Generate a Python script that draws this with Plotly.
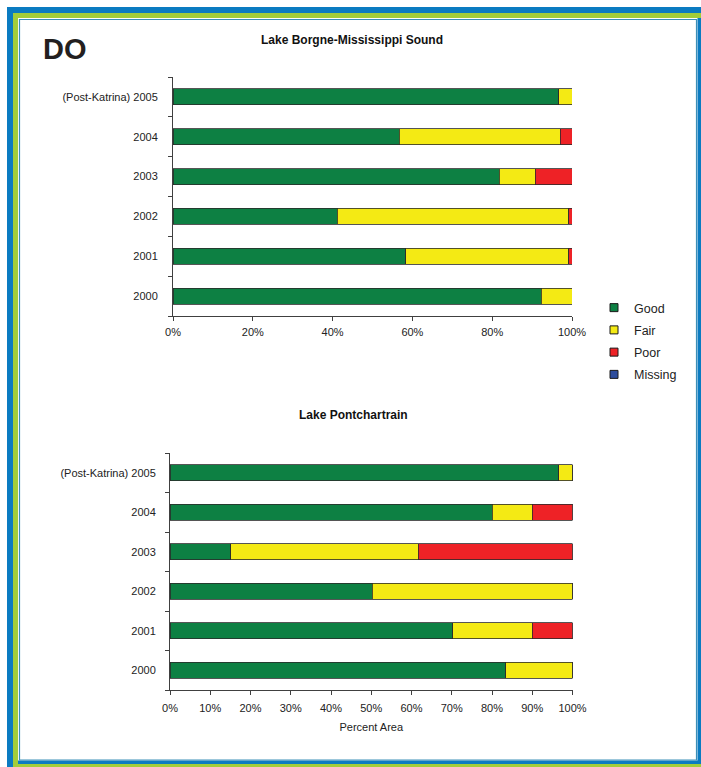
import plotly.graph_objects as go

W, H = 701, 767

years = ["2000", "2001", "2002", "2003", "2004", "(Post-Katrina) 2005"]

# Lake Borgne-Mississippi Sound (percent area)
lb_good = [92.3, 58.3, 41.2, 81.8, 56.7, 96.7]
lb_fair = [7.7, 40.9, 58.0, 9.0, 40.4, 3.3]
lb_poor = [0.0, 0.8, 0.8, 9.2, 2.9, 0.0]
lb_missing = [0, 0, 0, 0, 0, 0]

# Lake Pontchartrain (percent area)
lp_good = [83.4, 70.2, 50.2, 15.1, 80.0, 96.6]
lp_fair = [16.6, 19.8, 49.8, 46.6, 10.0, 3.4]
lp_poor = [0.0, 10.0, 0.0, 38.3, 10.0, 0.0]
lp_missing = [0, 0, 0, 0, 0, 0]

series_names = ["Good", "Fair", "Poor", "Missing"]
colors = ["#0d8043", "#f4ea14", "#ee2226", "#2d4c9c"]

top_tickvals = [0, 20, 40, 60, 80, 100]
top_ticklabels = ["0%", "20%", "40%", "60%", "80%", "100%"]
bottom_tickvals = [0, 10, 20, 30, 40, 50, 60, 70, 80, 90, 100]
bottom_ticklabels = ["0%", "10%", "20%", "30%", "40%", "50%", "60%", "70%", "80%", "90%", "100%"]

FONT = "Arial, Liberation Sans, sans-serif"


def px(x):
    return x / W


def py(y):
    return 1 - y / H


fig = go.Figure()

for vals, name, col in zip([lb_good, lb_fair, lb_poor, lb_missing], series_names, colors):
    fig.add_trace(go.Bar(y=years, x=vals, name=name, orientation="h",
                         marker=dict(color=col, line=dict(color="#2a2a2a", width=0.8)),
                         xaxis="x", yaxis="y", showlegend=False))
for vals, name, col in zip([lp_good, lp_fair, lp_poor, lp_missing], series_names, colors):
    fig.add_trace(go.Bar(y=years, x=vals, name=name, orientation="h",
                         marker=dict(color=col, line=dict(color="#2a2a2a", width=0.8)),
                         xaxis="x2", yaxis="y2", showlegend=False))
# legend entries (small square swatches)
for name, col in zip(series_names, colors):
    fig.add_trace(go.Scatter(x=[None], y=[None], mode="markers", name=name,
                             marker=dict(symbol="square", size=8, color=col,
                                         line=dict(color="#1a1a1a", width=1)),
                             xaxis="x", yaxis="y", legendgroup=name))

axis_common = dict(showline=True, linecolor="#404040", linewidth=1, showgrid=False,
                   zeroline=False, ticks="outside", ticklen=4, tickcolor="#404040",
                   tickfont=dict(family=FONT, size=11, color="#222222"), automargin=False)

fig.update_layout(
    width=W, height=H,
    margin=dict(l=0, r=0, t=0, b=0),
    paper_bgcolor="white", plot_bgcolor="white",
    barmode="stack", bargap=0.6,
    font=dict(family=FONT, color="#222222"),
    xaxis=dict(domain=[px(173), px(572)], range=[0, 100], tickmode="array",
               tickvals=top_tickvals, ticktext=top_ticklabels, ticklabelstandoff=2,
               anchor="y", **axis_common),
    yaxis=dict(domain=[py(316), py(77)], type="category", categoryorder="array",
               categoryarray=years, range=[-0.5, 5.5], tickson="boundaries",
               ticklabelstandoff=12, anchor="x", **axis_common),
    xaxis2=dict(domain=[px(170), px(572.5)], range=[0, 100], tickmode="array",
                tickvals=bottom_tickvals, ticktext=bottom_ticklabels, ticklabelstandoff=4,
                anchor="y2",
                title=dict(text="Percent Area", font=dict(family=FONT, size=11, color="#222222"),
                           standoff=10),
                **axis_common),
    yaxis2=dict(domain=[py(690), py(453)], type="category", categoryorder="array",
                categoryarray=years, range=[-0.5, 5.5], tickson="boundaries",
                ticklabelstandoff=11, anchor="x2", **axis_common),
    showlegend=True,
    legend=dict(x=px(594), y=py(293), xanchor="left", yanchor="top",
                font=dict(family=FONT, size=12.5, color="#222222"),
                bgcolor="rgba(0,0,0,0)", tracegroupgap=3, itemwidth=30),
)

fig.add_annotation(text="<b>DO</b>", x=px(41), y=py(49), xref="paper", yref="paper",
                   xanchor="left", yanchor="middle", showarrow=False,
                   font=dict(family=FONT, size=29, color="#231f20"))
fig.add_annotation(text="<b>Lake Borgne-Mississippi Sound</b>", x=px(352), y=py(40),
                   xref="paper", yref="paper", xanchor="center", yanchor="middle",
                   showarrow=False, font=dict(family=FONT, size=12, color="#111111"))
fig.add_annotation(text="<b>Lake Pontchartrain</b>", x=px(353), y=py(415),
                   xref="paper", yref="paper", xanchor="center", yanchor="middle",
                   showarrow=False, font=dict(family=FONT, size=12, color="#111111"))

BLUE = "#0b7bc1"
GREEN = "#a2cd3a"
frame = [
    (7, 7, 13, 767, BLUE),     # left blue
    (7, 7, 701, 13, BLUE),     # top blue
    (13, 13, 18, 767, GREEN),  # left green
    (13, 13, 701, 18, GREEN),  # top green
    (13, 764, 701, 767, GREEN),  # bottom green
    (18, 760.5, 701, 764, BLUE),  # bottom blue
    (697.5, 18, 701, 764, BLUE),  # right blue
]
for x0, y0, x1, y1, c in frame:
    fig.add_shape(type="rect", xref="paper", yref="paper", x0=px(x0), x1=px(x1),
                  y0=py(y1), y1=py(y0), fillcolor=c, line=dict(width=0), layer="below")
fig.add_shape(type="rect", xref="paper", yref="paper", x0=px(19.5), x1=px(696.5),
              y0=py(760), y1=py(19.5), line=dict(color="#3b8fb8", width=1.2),
              fillcolor="rgba(0,0,0,0)", layer="below")

fig.write_html("out.html", config={"displayModeBar": False},
               post_script="document.body.style.margin='0';document.body.style.overflow='hidden';")
